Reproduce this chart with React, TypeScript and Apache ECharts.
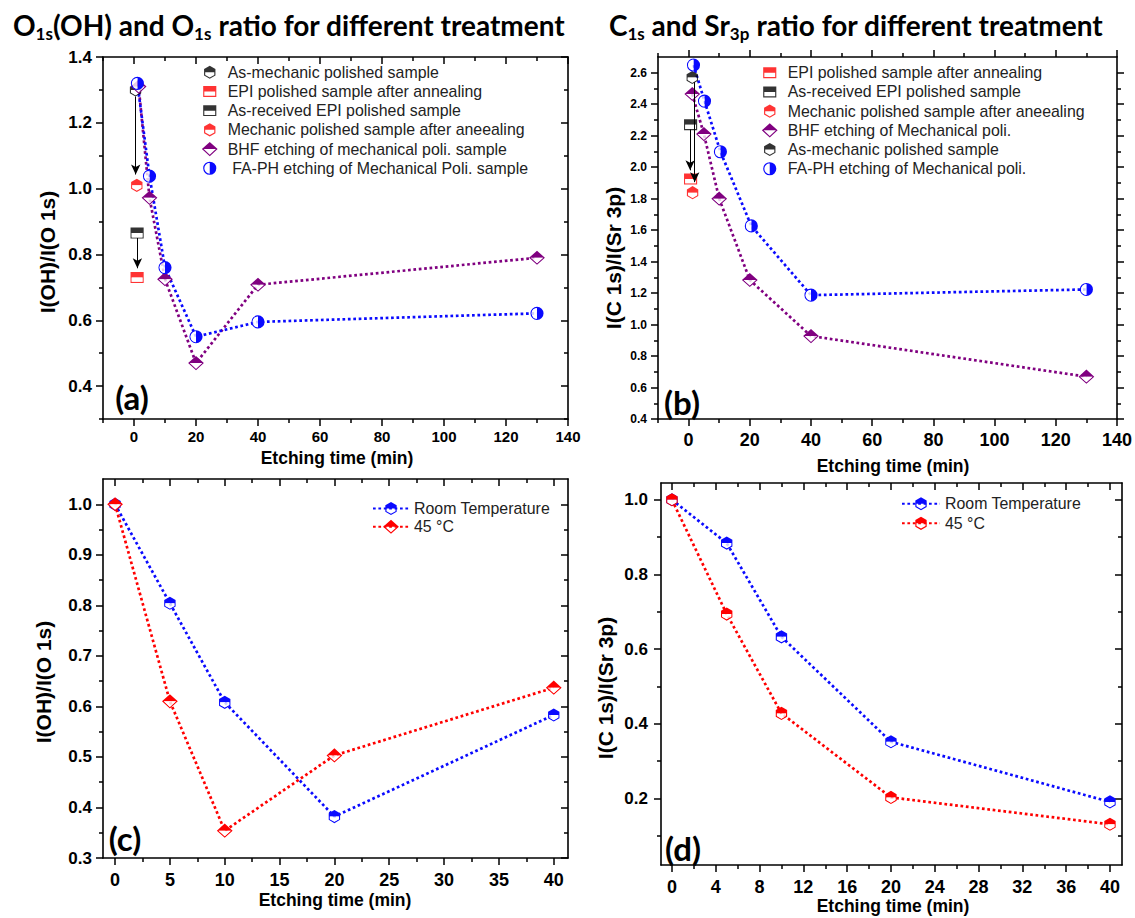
import React, { useEffect, useRef } from "react";
import * as echarts from "echarts";

// ---------------- DATA ----------------
// Panel (a): I(OH)/I(O 1s) vs etching time
const aAsMechTime = [0.5];
const aAsMechRatio = [1.3];
const aEpiAnnTime = [1.0];
const aEpiAnnRatio = [0.73];
const aAsRecTime = [1.0];
const aAsRecRatio = [0.865];
const aMechAnnTime = [0.9];
const aMechAnnRatio = [1.01];
const aBhfTime = [1.5, 5, 10, 20, 40, 130];
const aBhfRatio = [1.31, 0.972, 0.725, 0.47, 0.708, 0.79];
const aFaTime = [1.1, 5, 10, 20, 40, 130];
const aFaRatio = [1.32, 1.038, 0.76, 0.55, 0.595, 0.621];
const aArrowHex = [[0.55, 1.28], [0.55, 1.043]];
const aArrowSq = [[1.1, 0.85], [1.1, 0.758]];
const aXMajor = [0, 20, 40, 60, 80, 100, 120, 140];
const aXMinor = [-10, 10, 30, 50, 70, 90, 110, 130];
const aYMajor = [0.4, 0.6, 0.8, 1.0, 1.2, 1.4];
const aYMinor = [0.3, 0.5, 0.7, 0.9, 1.1, 1.3];

// Panel (b): I(C 1s)/I(Sr 3p) vs etching time
const bEpiAnnTime = [0.65];
const bEpiAnnRatio = [1.925];
const bAsRecTime = [0.65];
const bAsRecRatio = [2.27];
const bMechAnnTime = [1.3];
const bMechAnnRatio = [1.838];
const bAsMechTime = [1.2];
const bAsMechRatio = [2.57];
const bBhfTime = [1.2, 5, 10, 20, 40, 130];
const bBhfRatio = [2.465, 2.21, 1.8, 1.283, 0.927, 0.669];
const bFaTime = [1.6, 5.2, 10.4, 20.5, 40, 130];
const bFaRatio = [2.649, 2.42, 2.098, 1.627, 1.187, 1.223];
const bArrowSq = [[0.5, 2.24], [0.5, 1.98]];
const bArrowHex = [[2.0, 2.54], [2.0, 1.905]];
const bXMajor = [0, 20, 40, 60, 80, 100, 120, 140];
const bXMinor = [-10, 10, 30, 50, 70, 90, 110, 130];
const bYMajor = [0.4, 0.6, 0.8, 1.0, 1.2, 1.4, 1.6, 1.8, 2.0, 2.2, 2.4, 2.6];
const bYMinor = [0.5, 0.7, 0.9, 1.1, 1.3, 1.5, 1.7, 1.9, 2.1, 2.3, 2.5];

// Panel (c): I(OH)/I(O 1s), room temperature vs 45 °C
const cTime = [0, 5, 10, 20, 40];
const cRoomRatio = [1.0, 0.804, 0.608, 0.382, 0.583];
const c45Ratio = [1.0, 0.61, 0.354, 0.503, 0.637];
const cXMajor = [0, 5, 10, 15, 20, 25, 30, 35, 40];
const cXMinor = [2.5, 7.5, 12.5, 17.5, 22.5, 27.5, 32.5, 37.5];
const cYMajor = [0.3, 0.4, 0.5, 0.6, 0.7, 0.8, 0.9, 1.0];
const cYMinor = [0.35, 0.45, 0.55, 0.65, 0.75, 0.85, 0.95];

// Panel (d): I(C 1s)/I(Sr 3p), room temperature vs 45 °C
const dTime = [0, 5, 10, 20, 40];
const dRoomRatio = [1.0, 0.884, 0.633, 0.352, 0.191];
const d45Ratio = [1.0, 0.694, 0.428, 0.203, 0.131];
const dXMajor = [0, 4, 8, 12, 16, 20, 24, 28, 32, 36, 40];
const dXMinor = [2, 6, 10, 14, 18, 22, 26, 30, 34, 38];
const dYMajor = [0.2, 0.4, 0.6, 0.8, 1.0];
const dYMinor = [0.1, 0.3, 0.5, 0.7, 0.9];

// ---------------- STYLE ----------------
const FONT = "'Liberation Sans', Arial, sans-serif";
const TFONT = "Lato, 'Open Sans', sans-serif";
const BLUE = "#0a0aff";
const RED = "#ff0000";
const PURPLE = "#800080";
const BLACK = "#000000";
const SYM = 17.5;

const FRAME = "M0 0M100 100";
const HEX =
  FRAME +
  "M50 12.5L82.48 31.25L82.48 68.75L50 87.5L17.52 68.75L17.52 31.25Z" +
  "M50 20L24.02 35L24.02 65L50 80L75.98 65L75.98 35Z" +
  "M50 12.5L82.48 31.25L82.48 50L17.52 50L17.52 31.25Z";
const HEX_HOLE = FRAME + "M75.98 50L75.98 65L50 80L24.02 65L24.02 50Z";
const SQ =
  FRAME +
  "M12.5 18.75L87.5 18.75L87.5 81.25L12.5 81.25Z" +
  "M19 25.25L19 74.75L81 74.75L81 25.25Z" +
  "M12.5 18.75L87.5 18.75L87.5 50L12.5 50Z";
const SQ_HOLE = FRAME + "M19 50L81 50L81 74.75L19 74.75Z";
const DIA =
  FRAME +
  "M50 9.5L95 50L50 90.5L5 50Z" +
  "M50 18.1L15 50L50 81.9L85 50Z" +
  "M50 9.5L95 50L5 50Z";
const DIA_HOLE = FRAME + "M15 50L85 50L50 81.9Z";
const CIR =
  FRAME +
  "M50 12.5A37.5 37.5 0 0 1 50 87.5A37.5 37.5 0 0 1 50 12.5Z" +
  "M50 19A31 31 0 0 0 50 81A31 31 0 0 0 50 19Z" +
  "M50 12.5A37.5 37.5 0 0 1 50 87.5Z";
const CIR_HOLE = FRAME + "M50 19A31 31 0 0 0 50 81Z";

const pairs = (xs: number[], ys: number[]) => xs.map((x, i) => [x, ys[i]]);

function arrow(pts: number[][]) {
  return {
    silent: true,
    animation: false,
    symbol: ["none", "arrow"],
    symbolSize: [7, 10],
    label: { show: false },
    emphasis: { disabled: true },
    lineStyle: { color: "#000", width: 1, type: "solid" },
    data: [[{ coord: pts[0] }, { coord: pts[1] }]],
  };
}

function marks(
  name: string,
  data: number[][],
  color: string,
  sym: string,
  hole: string,
  asLine: boolean,
  extra: any = {}
) {
  const main: any = {
    name,
    type: asLine ? "line" : "scatter",
    data,
    symbol: "path://" + sym,
    symbolSize: SYM,
    symbolKeepAspect: true,
    showSymbol: true,
    itemStyle: { color },
    lineStyle: { color, width: 2.7, type: [2.7, 2.7] },
    silent: true,
    emphasis: { disabled: true },
    z: 2,
    ...extra,
  };
  const white: any = {
    type: "scatter",
    data,
    symbol: "path://" + hole,
    symbolSize: SYM,
    symbolKeepAspect: true,
    itemStyle: { color: "#ffffff" },
    silent: true,
    emphasis: { disabled: true },
    z: 2,
  };
  return [main, white];
}

type AxSpec = {
  min: number;
  max: number;
  major: number[];
  minor: number[];
  fontSize: number;
  margin: number;
  fmt: (v: number) => string;
  mirrorInside: boolean;
};

function axes(dim: "x" | "y", s: AxSpec) {
  const p1 = dim === "x" ? "bottom" : "left";
  const p2 = dim === "x" ? "top" : "right";
  const base = {
    type: "value",
    min: s.min,
    max: s.max,
    splitLine: { show: false },
    axisPointer: { show: false },
  };
  const line = { show: true, onZero: false, lineStyle: { color: "#000", width: 1.6 } };
  const noLine = { show: false, onZero: false };
  const tick = (vals: number[], len: number, inside: boolean) => ({
    show: true,
    inside,
    length: len,
    customValues: vals,
    lineStyle: { color: "#000", width: 1.5 },
  });
  return [
    {
      ...base,
      position: p1,
      axisLine: line,
      axisTick: tick(s.major, 7, false),
      axisLabel: {
        show: true,
        customValues: s.major,
        formatter: s.fmt,
        fontSize: s.fontSize,
        fontWeight: "bold",
        fontFamily: FONT,
        color: "#000",
        margin: s.margin,
      },
    },
    { ...base, position: p1, axisLine: noLine, axisTick: tick(s.minor, 4, false), axisLabel: { show: false } },
    { ...base, position: p2, axisLine: line, axisTick: tick(s.major, 7, s.mirrorInside), axisLabel: { show: false } },
    { ...base, position: p2, axisLine: noLine, axisTick: tick(s.minor, 4, s.mirrorInside), axisLabel: { show: false } },
  ];
}

const f1 = (v: number) => v.toFixed(1);
const f0 = (v: number) => String(Math.round(v));

function txt(text: string, x: number, y: number, size: number, rot = 0, family = FONT) {
  return {
    type: "text",
    x,
    y,
    rotation: rot,
    silent: true,
    style: {
      text,
      fill: "#000",
      font: `bold ${size}px ${family}`,
      align: "center",
      verticalAlign: "middle",
      textAlign: "center",
      textVerticalAlign: "middle",
    },
  };
}

function title(parts: [string, boolean][], x: number, y: number) {
  const text = parts.map(([t, sub]) => `{${sub ? "s" : "m"}|${t}}`).join("");
  return {
    type: "text",
    x,
    y,
    silent: true,
    style: {
      text,
      fill: "#000",
      align: "center",
      verticalAlign: "middle",
      textAlign: "center",
      textVerticalAlign: "middle",
      rich: {
        m: { fontSize: 28, fontWeight: "bold", fontFamily: TFONT, lineHeight: 38, fill: "#000" },
        s: { fontSize: 17, fontWeight: "bold", fontFamily: TFONT, lineHeight: 20, padding: [16, 0, 0, 0], fill: "#000" },
      },
    },
  };
}

function legendBox(left: number, top: number, gap: number, items: { name: string; icon?: string }[], iw: number, ih: number) {
  return {
    orient: "vertical",
    left,
    top,
    itemGap: gap,
    itemWidth: iw,
    itemHeight: ih,
    selectedMode: false,
    padding: 0,
    textStyle: { fontFamily: FONT, fontSize: 15.9, color: "#222" },
    data: items,
  };
}

// ---------------- PANELS ----------------
function optionA() {
  const N1 = "As-mechanic polished sample";
  const N2 = "EPI polished sample after annealing";
  const N3 = "As-received EPI polished sample";
  const N4 = "Mechanic polished sample after aneealing";
  const N5 = "BHF etching of mechanical poli. sample";
  const N6 = " FA-PH etching of Mechanical Poli. sample";
  return {
    animation: false,
    grid: { left: 103, top: 57, width: 465, height: 362, containLabel: false, outerBoundsMode: "none" },
    xAxis: axes("x", { min: -10, max: 140, major: aXMajor, minor: aXMinor, fontSize: 15, margin: 10, fmt: f0, mirrorInside: true }),
    yAxis: axes("y", { min: 0.3, max: 1.4, major: aYMajor, minor: aYMinor, fontSize: 17, margin: 11, fmt: f1, mirrorInside: true }),
    legend: legendBox(201, 63.5, 1.7, [
      { name: N1, icon: "path://" + HEX },
      { name: N2, icon: "path://" + SQ },
      { name: N3, icon: "path://" + SQ },
      { name: N4, icon: "path://" + HEX },
      { name: N5, icon: "path://" + DIA },
      { name: N6, icon: "path://" + CIR },
    ], 26, SYM),
    series: [
      ...marks(N1, pairs(aAsMechTime, aAsMechRatio), BLACK, HEX, HEX_HOLE, false, { markLine: arrow(aArrowHex) }),
      ...marks(N3, pairs(aAsRecTime, aAsRecRatio), BLACK, SQ, SQ_HOLE, false, { markLine: arrow(aArrowSq) }),
      ...marks(N2, pairs(aEpiAnnTime, aEpiAnnRatio), RED, SQ, SQ_HOLE, false),
      ...marks(N4, pairs(aMechAnnTime, aMechAnnRatio), RED, HEX, HEX_HOLE, false),
      ...marks(N5, pairs(aBhfTime, aBhfRatio), PURPLE, DIA, DIA_HOLE, true),
      ...marks(N6, pairs(aFaTime, aFaRatio), BLUE, CIR, CIR_HOLE, true),
    ],
    graphic: [
      title([["O", false], ["1s", true], ["(OH) and O", false], ["1s", true], [" ratio for different treatment", false]], 289, 25),
      txt("I(OH)/I(O 1s)", 47, 252, 21, Math.PI / 2),
      txt("Etching time (min)", 337, 458, 17.5),
      txt("(a)", 132, 397, 33, 0, TFONT),
    ],
  };
}

function optionB() {
  const N1 = "EPI polished sample after annealing";
  const N2 = "As-received EPI polished sample";
  const N3 = "Mechanic polished sample after aneealing";
  const N4 = "BHF etching of Mechanical poli.";
  const N5 = "As-mechanic polished sample";
  const N6 = "FA-PH etching of Mechanical poli.";
  return {
    animation: false,
    grid: { left: 658, top: 57, width: 459, height: 362, containLabel: false, outerBoundsMode: "none" },
    xAxis: axes("x", { min: -10, max: 140, major: bXMajor, minor: bXMinor, fontSize: 18, margin: 12, fmt: f0, mirrorInside: false }),
    yAxis: axes("y", { min: 0.4, max: 2.7, major: bYMajor, minor: bYMinor, fontSize: 12, margin: 11, fmt: f1, mirrorInside: false }),
    legend: legendBox(761, 64, 1.7, [
      { name: N1, icon: "path://" + SQ },
      { name: N2, icon: "path://" + SQ },
      { name: N3, icon: "path://" + HEX },
      { name: N4, icon: "path://" + DIA },
      { name: N5, icon: "path://" + HEX },
      { name: N6, icon: "path://" + CIR },
    ], 26, SYM),
    series: [
      ...marks(N2, pairs(bAsRecTime, bAsRecRatio), BLACK, SQ, SQ_HOLE, false, { markLine: arrow(bArrowSq) }),
      ...marks(N1, pairs(bEpiAnnTime, bEpiAnnRatio), RED, SQ, SQ_HOLE, false),
      ...marks(N3, pairs(bMechAnnTime, bMechAnnRatio), RED, HEX, HEX_HOLE, false),
      ...marks(N4, pairs(bBhfTime, bBhfRatio), PURPLE, DIA, DIA_HOLE, true),
      ...marks(N5, pairs(bAsMechTime, bAsMechRatio), BLACK, HEX, HEX_HOLE, false, { markLine: arrow(bArrowHex) }),
      ...marks(N6, pairs(bFaTime, bFaRatio), BLUE, CIR, CIR_HOLE, true),
    ],
    graphic: [
      title([["C", false], ["1s", true], [" and Sr", false], ["3p", true], [" ratio for different treatment", false]], 856, 25),
      txt("I(C 1s)/I(Sr 3p)", 613, 258, 21, Math.PI / 2),
      txt("Etching time (min)", 893, 466, 17.5),
      txt("(b)", 682, 402, 33, 0, TFONT),
    ],
  };
}

function optionC() {
  const N1 = "Room Temperature";
  const N2 = "45 °C";
  return {
    animation: false,
    grid: { left: 103, top: 479, width: 465, height: 379, containLabel: false, outerBoundsMode: "none" },
    xAxis: axes("x", { min: -1.1, max: 41.3, major: cXMajor, minor: cXMinor, fontSize: 18, margin: 13, fmt: f0, mirrorInside: true }),
    yAxis: axes("y", { min: 0.3, max: 1.05, major: cYMajor, minor: cYMinor, fontSize: 17, margin: 11, fmt: f1, mirrorInside: true }),
    legend: legendBox(372, 499.8, 0.8, [{ name: N1 }, { name: N2 }], 36, 21.8),
    series: [
      ...marks(N1, pairs(cTime, cRoomRatio), BLUE, HEX, HEX_HOLE, true),
      ...marks(N2, pairs(cTime, c45Ratio), RED, DIA, DIA_HOLE, true),
    ],
    graphic: [
      txt("I(OH)/I(O 1s)", 43, 682, 21, Math.PI / 2),
      txt("Etching time (min)", 335, 900, 17.5),
      txt("(c)", 125, 838, 33, 0, TFONT),
    ],
  };
}

function optionD() {
  const N1 = "Room Temperature";
  const N2 = "45 °C";
  return {
    animation: false,
    grid: { left: 661, top: 483, width: 461, height: 382, containLabel: false, outerBoundsMode: "none" },
    xAxis: axes("x", { min: -1, max: 41.1, major: dXMajor, minor: dXMinor, fontSize: 18, margin: 12.5, fmt: f0, mirrorInside: true }),
    yAxis: axes("y", { min: 0.022, max: 1.045, major: dYMajor, minor: dYMinor, fontSize: 17, margin: 13, fmt: f1, mirrorInside: true }),
    legend: legendBox(901, 495, 2.2, [{ name: N1 }, { name: N2 }], 38, 21.8),
    series: [
      ...marks(N1, pairs(dTime, dRoomRatio), BLUE, HEX, HEX_HOLE, true),
      ...marks(N2, pairs(dTime, d45Ratio), RED, HEX, HEX_HOLE, true),
    ],
    graphic: [
      txt("I(C 1s)/I(Sr 3p)", 605, 688, 21, Math.PI / 2),
      txt("Etching time (min)", 893, 906, 17.5),
      txt("(d)", 683, 848, 33, 0, TFONT),
    ],
  };
}

export default function App() {
  const r0 = useRef<HTMLDivElement>(null);
  const r1 = useRef<HTMLDivElement>(null);
  const r2 = useRef<HTMLDivElement>(null);
  const r3 = useRef<HTMLDivElement>(null);
  useEffect(() => {
    const refs = [r0, r1, r2, r3];
    const opts = [optionA(), optionB(), optionC(), optionD()];
    const charts = refs.map((r, i) => {
      const c = echarts.init(r.current as HTMLDivElement, null, { renderer: "svg" });
      c.setOption(opts[i] as any);
      return c;
    });
    return () => charts.forEach((c) => c.dispose());
  }, []);
  const layer: React.CSSProperties = { position: "absolute", left: 0, top: 0, width: 1135, height: 918 };
  return (
    <div style={{ position: "absolute", left: 0, top: 0, width: 1135, height: 918, background: "#fff", overflow: "hidden" }}>
      <div ref={r0} style={layer} />
      <div ref={r1} style={layer} />
      <div ref={r2} style={layer} />
      <div ref={r3} style={layer} />
    </div>
  );
}
